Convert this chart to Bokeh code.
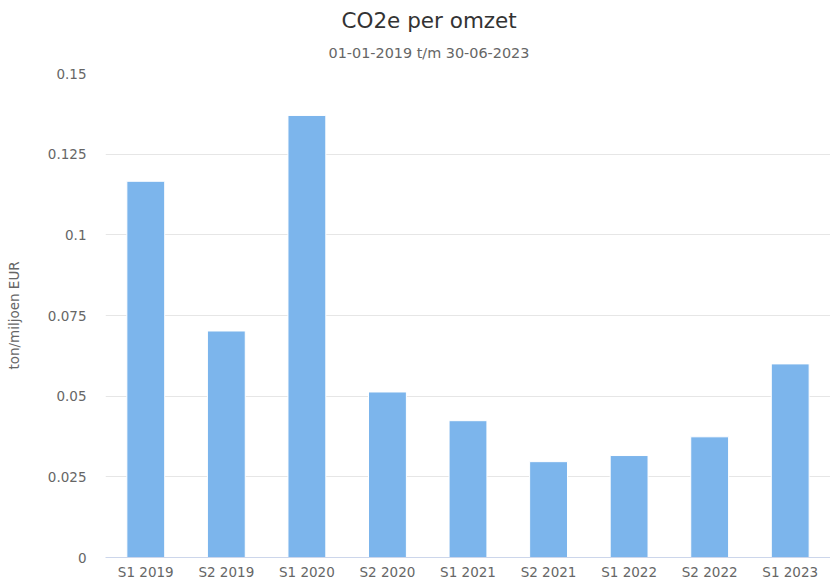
from bokeh.plotting import figure
from bokeh.models import FactorRange, Range1d, FixedTicker, CustomJSTickFormatter, Title, ColumnDataSource
from bokeh.embed import file_html
from bokeh.resources import INLINE

categories = ["S1 2019", "S2 2019", "S1 2020", "S2 2020", "S1 2021",
              "S2 2021", "S1 2022", "S2 2022", "S1 2023"]
values = [0.1166, 0.0702, 0.1370, 0.0513, 0.0424, 0.0297, 0.0316, 0.0374, 0.0600]
y_ticks = [0, 0.025, 0.05, 0.075, 0.1, 0.125, 0.15]
y_tick_labels = ["0", "0.025", "0.05", "0.075", "0.1", "0.125", "0.15"]

title_text = "CO2e per omzet"
subtitle_text = "01-01-2019 t/m 30-06-2023"
y_label = "ton/miljoen EUR"

FONT = "DejaVu Sans"

source = ColumnDataSource(dict(cat=categories, val=values))

p = figure(width=830, height=582, x_range=FactorRange(*categories, range_padding=0),
           y_range=Range1d(0, 0.15), toolbar_location=None, output_backend="svg",
           min_border_left=105, min_border_right=0, min_border_top=73, min_border_bottom=0)
p.outline_line_color = None
p.background_fill_color = "white"
p.border_fill_color = "white"

p.vbar(x="cat", top="val", width=0.47, source=source, fill_color="#7cb5ec",
       line_color="white", line_width=1)

sub = Title(text=subtitle_text, align="left", vertical_align="top", text_font=FONT,
            text_font_size="14.4px", text_color="#666666", text_font_style="normal",
            offset=223, standoff=21)
p.add_layout(sub, "above")
main = Title(text=title_text, align="left", text_font=FONT, text_font_size="21.5px",
             text_color="#333333", text_font_style="normal", offset=236, standoff=4)
p.add_layout(main, "above")

# y axis
p.yaxis.ticker = FixedTicker(ticks=y_ticks)
p.yaxis.formatter = CustomJSTickFormatter(args=dict(tvals=y_ticks, tlabels=y_tick_labels), code="""
    let best = 0, d = Infinity;
    for (let i = 0; i < tvals.length; i++) {
        const dd = Math.abs(tvals[i] - tick);
        if (dd < d) { d = dd; best = i; }
    }
    return tlabels[best];
""")
p.yaxis.axis_line_color = None
p.yaxis.major_tick_line_color = None
p.yaxis.minor_tick_line_color = None
p.yaxis.major_tick_out = 0
p.yaxis.minor_tick_out = 0
p.yaxis.major_label_text_font = FONT
p.yaxis.major_label_text_font_size = "13.5px"
p.yaxis.major_label_text_color = "#666666"
p.yaxis.major_label_standoff = 19
p.yaxis.axis_label = y_label
p.yaxis.axis_label_text_font = FONT
p.yaxis.axis_label_text_font_size = "13.5px"
p.yaxis.axis_label_text_color = "#666666"
p.yaxis.axis_label_text_font_style = "normal"
p.yaxis.axis_label_standoff = 23

# x axis
p.xaxis.axis_label = None
p.xaxis.axis_label_standoff = 0
p.xaxis.axis_line_color = "#ccd6eb"
p.xaxis.axis_line_width = 1
p.xaxis.major_tick_line_color = None
p.xaxis.minor_tick_line_color = None
p.xaxis.major_tick_out = 0
p.xaxis.major_tick_in = 0
p.xaxis.minor_tick_out = 0
p.xaxis.minor_tick_in = 0
p.xaxis.major_label_text_font = FONT
p.xaxis.major_label_text_font_size = "13.5px"
p.xaxis.major_label_text_color = "#666666"
p.xaxis.major_label_standoff = 6

p.xgrid.grid_line_color = None
p.ygrid.grid_line_color = "#e6e6e6"
p.ygrid.grid_line_width = 1

open("out.html", "w").write(file_html(p, INLINE))
